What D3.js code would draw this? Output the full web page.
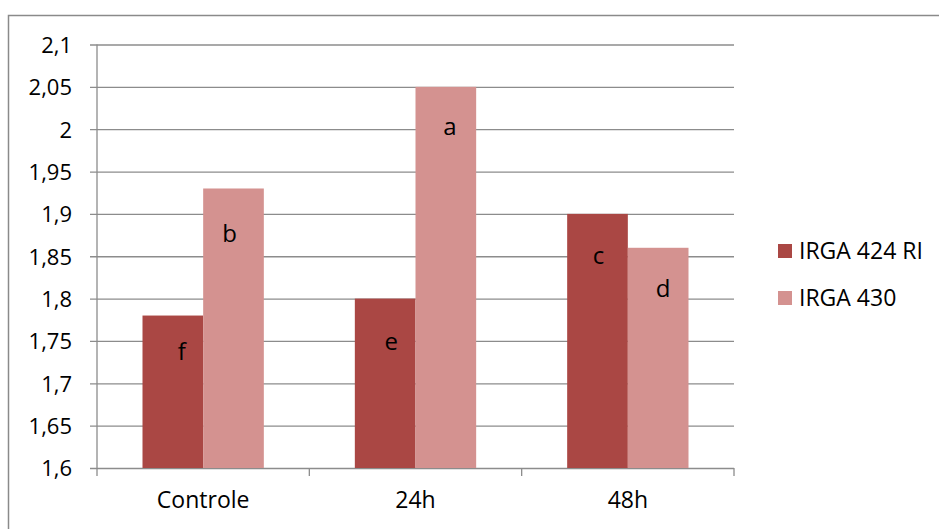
<!DOCTYPE html>
<html>
<head>
<meta charset="utf-8">
<script src="https://cdn.jsdelivr.net/npm/d3@7/dist/d3.min.js"></script>
<style>
  html, body { margin: 0; padding: 0; background: #fff; }
  svg { display: block; }
  text { font-family: "Open Sans", "Noto Sans", sans-serif; fill: #000; }
</style>
</head>
<body>
<svg id="chart" width="939" height="529"></svg>
<script>
// Tratamentos e cultivares
const categories = ["Controle", "24h", "48h"];
const seriesNames = ["IRGA 424 RI", "IRGA 430"];
const irga424 = [1.78, 1.80, 1.90];
const irga430 = [1.93, 2.05, 1.86];
// Letras de significância (por tratamento, por cultivar)
const letters424 = ["f", "e", "c"];
const letters430 = ["b", "a", "d"];
const yTicks = [1.6, 1.65, 1.7, 1.75, 1.8, 1.85, 1.9, 1.95, 2, 2.05, 2.1];

const colors = ["#AA4744", "#D49290"];
const gridColor = "#8C8C8C";
const fontFamily = "\"Open Sans\", sans-serif";

const svg = d3.select("#chart");
const plot = { left: 97, right: 734, top: 44.5, bottom: 468 };

// moldura externa
svg.append("path")
  .attr("d", "M8.5,529 V15.5 H939")
  .attr("fill", "none").attr("stroke", "#8A8A8A").attr("stroke-width", 1.5);

const x = d3.scaleBand().domain(categories).range([plot.left, plot.right]).paddingInner(0).paddingOuter(0);
const x1 = d3.scaleBand().domain(seriesNames).range([0, x.bandwidth()]).paddingInner(0).paddingOuter(0.75);
const y = d3.scaleLinear().domain([1.6, 2.1]).range([plot.bottom, plot.top]);

const fmt = v => String(+v.toFixed(2)).replace(".", ",");

// grade horizontal + marcas do eixo Y
const yAxis = d3.axisLeft(y).tickValues(yTicks).tickFormat(fmt).tickSize(-(plot.right - plot.left)).tickPadding(0);
const gy = svg.append("g").attr("transform", `translate(${plot.left},0)`).call(yAxis);
gy.select(".domain").remove();
gy.selectAll(".tick line").attr("stroke", gridColor).attr("stroke-width", 1.3)
  .attr("x1", -7);
gy.selectAll(".tick text").attr("x", -25).attr("dy", "0.36em")
  .style("font-size", "22px").style("font-family", fontFamily).attr("fill", "#000");

// barras
const data = categories.map((c, i) => ({ cat: c, vals: [irga424[i], irga430[i]], letters: [letters424[i], letters430[i]] }));
// deslocamento manual das letras dentro das barras [dx, linha de base abaixo do topo]
const labelNudge = [[[9, 44], [-4, 54]], [[6, 51], [4, 48]], [[1, 50], [5, 49]]];

const groups = svg.append("g").selectAll("g").data(data).join("g")
  .attr("transform", d => `translate(${x(d.cat)},0)`);

groups.selectAll("rect").data(d => d.vals.map((v, j) => ({ v, j })))
  .join("rect")
  .attr("x", d => x1(seriesNames[d.j]))
  .attr("width", x1.bandwidth())
  .attr("y", d => y(d.v))
  .attr("height", d => y(1.6) - y(d.v))
  .attr("fill", d => colors[d.j]);

groups.selectAll("text.lbl").data((d, i) => d.vals.map((v, j) => ({ v, j, t: d.letters[j], n: labelNudge[i][j] })))
  .join("text").attr("class", "lbl")
  .attr("x", d => x1(seriesNames[d.j]) + x1.bandwidth() / 2 + d.n[0])
  .attr("y", d => y(d.v) + d.n[1])
  .attr("text-anchor", "middle")
  .style("font-size", "24px")
  .text(d => d.t);

// eixo Y (linha) e eixo X
svg.append("line").attr("x1", plot.left).attr("x2", plot.left).attr("y1", plot.top).attr("y2", plot.bottom)
  .attr("stroke", gridColor).attr("stroke-width", 1.3);

const xAxis = d3.axisBottom(x).tickSize(0).tickPadding(0);
const gx = svg.append("g").attr("transform", `translate(0,${plot.bottom})`).call(xAxis);
gx.select(".domain").remove();
gx.selectAll(".tick text").attr("y", 32).attr("dy", "0.36em")
  .style("font-size", "23px").style("font-family", fontFamily).attr("fill", "#000");

// marcas entre categorias
const edges = categories.map(c => x(c)).concat([x(categories[categories.length - 1]) + x.bandwidth()]);
svg.append("g").selectAll("line").data(edges).join("line")
  .attr("x1", d => d).attr("x2", d => d)
  .attr("y1", plot.bottom).attr("y2", plot.bottom + 8)
  .attr("stroke", gridColor).attr("stroke-width", 1.3);

// legenda
const legend = svg.append("g").attr("transform", "translate(778,244)");
const li = legend.selectAll("g").data(seriesNames).join("g")
  .attr("transform", (d, i) => `translate(0,${i * 47})`);
li.append("rect").attr("width", 14).attr("height", 14).attr("fill", (d, i) => colors[i]);
li.append("text").attr("x", 21).attr("y", 7).attr("dy", "0.36em")
  .style("font-size", "23px").text(d => d);
</script>
</body>
</html>
